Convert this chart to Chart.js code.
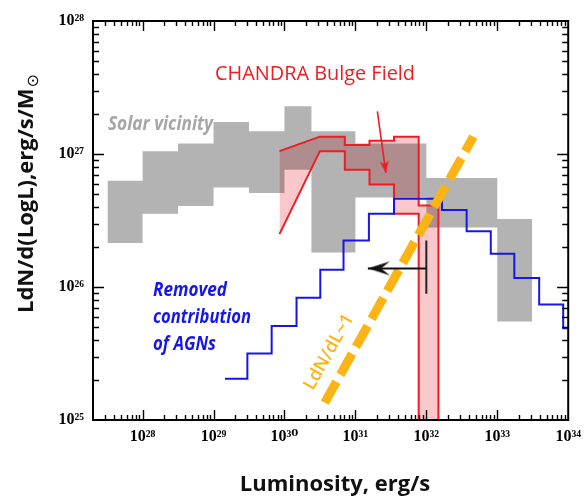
<!DOCTYPE html>
<html><head><meta charset="utf-8">
<script src="https://cdn.jsdelivr.net/npm/chart.js@4/dist/chart.umd.min.js"></script>
<style>html,body{margin:0;padding:0;background:#fff;}#wrap{width:588px;height:498px;position:relative;}canvas{display:block;}</style>
</head><body><div id="wrap"><canvas id="c" width="588" height="498" style="width:588px;height:498px"></canvas></div>
<script>
// ---------- data (luminosity in erg/s, LdN/dLogL in erg/s/Msun) ----------
const xTickExps = [28, 29, 30, 31, 32, 33, 34];
const yTickExps = [25, 26, 27, 28];
const xRange = [2e27, 1e34];
const yRange = [1e25, 1e28];

// Solar vicinity band (grey)
const solarEdges = [3.2e27, 1e28, 3.16e28, 1e29, 3.16e29, 1e30, 2.4e30, 1e31, 1e32, 1e33, 3.1e33];
const solarHigh  = [6.3e26, 1.05e27, 1.2e27, 1.74e27, 1.48e27, 2.29e27, 1.48e27, 1.2e27, 6.6e26, 3.24e26];
const solarLow   = [2.14e26, 3.55e26, 4.07e26, 5.6e26, 5.1e26, 7.6e26, 1.82e26, 4.7e26, 2.8e26, 5.5e25];

// CHANDRA Bulge Field band (red)
const bulgeStartL = 8.5e29;
const bulgeStartHigh = 1.05e27;
const bulgeStartLow = 2.5e26;
const bulgeEdges = [3.16e30, 7.1e30, 1.58e31, 3.5e31, 7.8e31, 1.48e32];
const bulgeHigh  = [1.35e27, 1.17e27, 1.26e27, 1.35e27, 4.1e26];
const bulgeLow   = [1.05e27, 7.6e26, 5.9e26, 3.55e26, 1e25];

// Removed contribution of AGNs (blue histogram)
const agnEdges  = [1.45e29, 3.0e29, 6.6e29, 1.48e30, 3.2e30, 6.8e30, 1.55e31, 3.5e31, 1.66e32, 3.7e32, 8.1e32, 1.74e33, 3.9e33, 8.5e33, 1e34];
const agnValues = [2.04e25, 3.16e25, 5.1e25, 8.3e25, 1.35e26, 2.24e26, 3.55e26, 4.6e26, 3.8e26, 2.63e26, 1.78e26, 1.17e26, 7.4e25, 4.9e25];

// LdN/dL ~ 1 reference slope (orange)
const slopeL = [3.7e30, 4.6e32];
const slopeV = [1.35e25, 1.35e27];

// upper limit with arrow (black)
const limitL = [1e32, 1.5e31];
const limitV = 1.38e26;
const limitBar = [2.24e26, 8.9e25];

// pointer arrow to the red band
const pointerL = [2.04e31, 2.69e31];
const pointerV = [2.09e27, 7.2e26];

// ---------- helpers ----------
function steps(edges, vals) {
  const pts = [];
  for (let i = 0; i < vals.length; i++) {
    pts.push({x: edges[i], y: vals[i]});
    pts.push({x: edges[i + 1], y: vals[i]});
  }
  return pts;
}
const SUP = {'0':'⁰','1':'¹','2':'²','3':'³','4':'⁴','5':'⁵','6':'⁶','7':'⁷','8':'⁸','9':'⁹','-':'⁻'};
function powLabel(v) {
  const e = Math.round(Math.log10(v));
  return '10' + String(e).split('').map(c => SUP[c]).join('');
}
function arrowHead(len, half, color, concave) {
  const c = document.createElement('canvas');
  c.width = Math.ceil(half * 2) + 2;
  c.height = Math.ceil(len * 2) + 2;
  const g = c.getContext('2d');
  const cx = c.width / 2, cy = c.height / 2;
  g.fillStyle = color;
  g.beginPath();
  g.moveTo(cx, cy);
  g.lineTo(cx + half, cy + len);
  g.lineTo(cx, cy + len * concave);
  g.lineTo(cx - half, cy + len);
  g.closePath();
  g.fill();
  return c;
}

const GREY = '#b3b3b3';
const RED = '#ee1c24';
const PINK = 'rgb(250,200,202)';
const BLUE = '#1616e8';
const ORANGE = '#fcb414';

const bulgeHighPts = [{x: bulgeStartL, y: bulgeStartHigh}, ...steps(bulgeEdges, bulgeHigh), {x: bulgeEdges[bulgeEdges.length - 1], y: yRange[0]}];
const bulgeLowPts = [{x: bulgeStartL, y: bulgeStartLow}, ...steps(bulgeEdges, bulgeLow)];

const blackHead = arrowHead(22, 7, '#111', 0.6);
const redHead = arrowHead(12, 4.5, RED, 0.75);

const decor = {
  id: 'decor',
  beforeDraw(chart) {
    const ctx = chart.ctx;
    ctx.save();
    ctx.globalCompositeOperation = 'source-over';
    ctx.fillStyle = '#fff';
    ctx.fillRect(0, 0, chart.width, chart.height);
    ctx.restore();
    ctx.globalCompositeOperation = 'multiply';
  },
  beforeDatasetsDraw(chart) {
    chart.ctx.globalCompositeOperation = 'source-over';
  },
  afterDatasetsDraw(chart) {
    const ctx = chart.ctx, a = chart.chartArea;
    const xs = chart.scales.x, ys = chart.scales.y;
    ctx.save();
    ctx.globalCompositeOperation = 'source-over';
    // inward ticks on all four sides
    ctx.strokeStyle = '#000';
    ctx.lineWidth = 1.4;
    ctx.beginPath();
    for (let d = 27; d <= 34; d++) {
      for (let m = 1; m <= 9; m++) {
        const v = m * Math.pow(10, d);
        if (v <= xs.min * 1.001 || v >= xs.max * 0.999) continue;
        const p = Math.round(xs.getPixelForValue(v)) + 0.5;
        const L = m === 1 ? 10 : 5;
        ctx.moveTo(p, a.bottom); ctx.lineTo(p, a.bottom - L);
        ctx.moveTo(p, a.top); ctx.lineTo(p, a.top + L);
      }
    }
    for (let d = 25; d <= 28; d++) {
      for (let m = 1; m <= 9; m++) {
        const v = m * Math.pow(10, d);
        if (v <= ys.min * 1.001 || v >= ys.max * 0.999) continue;
        const p = Math.round(ys.getPixelForValue(v)) + 0.5;
        const L = m === 1 ? 11 : 6;
        ctx.moveTo(a.left, p); ctx.lineTo(a.left + L, p);
        ctx.moveTo(a.right, p); ctx.lineTo(a.right - L, p);
      }
    }
    ctx.stroke();
    ctx.lineWidth = 2;
    ctx.strokeRect(a.left, a.top, a.right - a.left, a.bottom - a.top);

    // annotations
    ctx.textAlign = 'left';
    ctx.textBaseline = 'alphabetic';
    ctx.fillStyle = RED;
    ctx.font = '20px "Open Sans"';
    ctx.fillText('CHANDRA Bulge Field', 215, 80, 200);

    ctx.fillStyle = '#a6a6a6';
    ctx.font = 'italic bold 19px "Open Sans"';
    ctx.fillText('Solar vicinity', 108, 130, 105);

    ctx.fillStyle = BLUE;
    ctx.font = 'italic bold 19px "Open Sans"';
    ctx.fillText('Removed', 153, 296, 74);
    ctx.fillText('contribution', 153, 323, 98);
    ctx.fillText('of AGNs', 153, 350, 63);

    ctx.save();
    ctx.translate(329, 352);
    ctx.rotate(-60.6 * Math.PI / 180);
    ctx.fillStyle = ORANGE;
    ctx.font = '600 18px "Open Sans"';
    ctx.textAlign = 'center';
    ctx.textBaseline = 'middle';
    ctx.fillText('LdN/dL~1', 0, 0, 94);
    ctx.restore();

    // axis titles
    ctx.fillStyle = '#111';
    ctx.font = 'bold 22px "Open Sans"';
    ctx.textAlign = 'center';
    ctx.fillText('Luminosity, erg/s', 335, 491, 196);

    ctx.save();
    ctx.translate(33, 313);
    ctx.rotate(-Math.PI / 2);
    ctx.textAlign = 'left';
    ctx.font = 'bold 22px "Open Sans"';
    const main = 'LdN/d(LogL),erg/s/M';
    const w = Math.min(ctx.measureText(main).width, 226);
    ctx.fillText(main, 0, 0, 226);
    ctx.font = '16px "DejaVu Sans"';
    ctx.fillText('⊙', w + 1, 5);
    ctx.restore();
    ctx.restore();
  }
};

const decadeTicks = exps => scale => { scale.ticks = exps.map(e => ({value: Math.pow(10, e)})); };
const tickFont = {family: '"Liberation Serif", "DejaVu Serif", serif', size: 16, weight: 'bold'};

new Chart(document.getElementById('c'), {
  type: 'scatter',
  data: {
    datasets: [
      {label: 'Solar vicinity high', data: steps(solarEdges, solarHigh), showLine: true, borderWidth: 0, borderColor: 'rgba(0,0,0,0)', backgroundColor: GREY, fill: '+1', pointRadius: 0, order: 10},
      {label: 'Solar vicinity low', data: steps(solarEdges, solarLow), showLine: true, borderWidth: 0, borderColor: 'rgba(0,0,0,0)', fill: false, pointRadius: 0, order: 11},
      {label: 'Bulge high', data: bulgeHighPts, showLine: true, borderWidth: 2, borderColor: RED, backgroundColor: PINK, fill: '+1', pointRadius: 0, order: 6},
      {label: 'Bulge low', data: bulgeLowPts, showLine: true, borderWidth: 2, borderColor: RED, fill: false, pointRadius: 0, order: 7},
      {label: 'AGN removed', data: steps(agnEdges, agnValues), showLine: true, borderWidth: 2, borderColor: BLUE, fill: false, pointRadius: 0, order: 5},
      {label: 'slope', data: slopeL.map((l, i) => ({x: l, y: slopeV[i]})), showLine: true, borderWidth: 9, borderColor: ORANGE, borderDash: [24, 8], borderCapStyle: 'butt', fill: false, pointRadius: 0, order: 4},
      {label: 'limit', data: limitL.map(l => ({x: l, y: limitV})), showLine: true, borderWidth: 2, borderColor: '#111', fill: false, pointRadius: [0, 1], pointStyle: blackHead, pointRotation: -90, order: 2},
      {label: 'limit bar', data: limitBar.map(v => ({x: limitL[0], y: v})), showLine: true, borderWidth: 2, borderColor: '#222', fill: false, pointRadius: 0, order: 3},
      {label: 'pointer', data: pointerL.map((l, i) => ({x: l, y: pointerV[i]})), showLine: true, borderWidth: 1.6, borderColor: RED, fill: false, pointRadius: [0, 1], pointStyle: redHead, pointRotation: 172, order: 1}
    ]
  },
  options: {
    responsive: false,
    animation: false,
    devicePixelRatio: 1,
    events: [],
    layout: {padding: {top: 21, right: 14, left: 0, bottom: 0}},
    elements: {line: {tension: 0}},
    plugins: {
      legend: {display: false},
      tooltip: {enabled: false},
      filler: {propagate: false, drawTime: 'beforeDatasetsDraw'}
    },
    scales: {
      x: {
        type: 'logarithmic', position: 'bottom', min: xRange[0], max: xRange[1],
        grid: {display: false, drawTicks: false},
        border: {display: false},
        afterBuildTicks: decadeTicks(xTickExps),
        afterFit: s => { s.height = 78; },
        ticks: {autoSkip: false, maxRotation: 0, padding: 7, color: '#000', font: tickFont, callback: v => powLabel(v)}
      },
      y: {
        type: 'logarithmic', position: 'left', min: yRange[0], max: yRange[1],
        grid: {display: false, drawTicks: false},
        border: {display: false},
        afterBuildTicks: decadeTicks(yTickExps),
        afterFit: s => { s.width = 93; },
        ticks: {autoSkip: false, padding: 9, color: '#000', font: tickFont, callback: v => powLabel(v)}
      }
    }
  },
  plugins: [decor]
});
</script>
</body></html>
